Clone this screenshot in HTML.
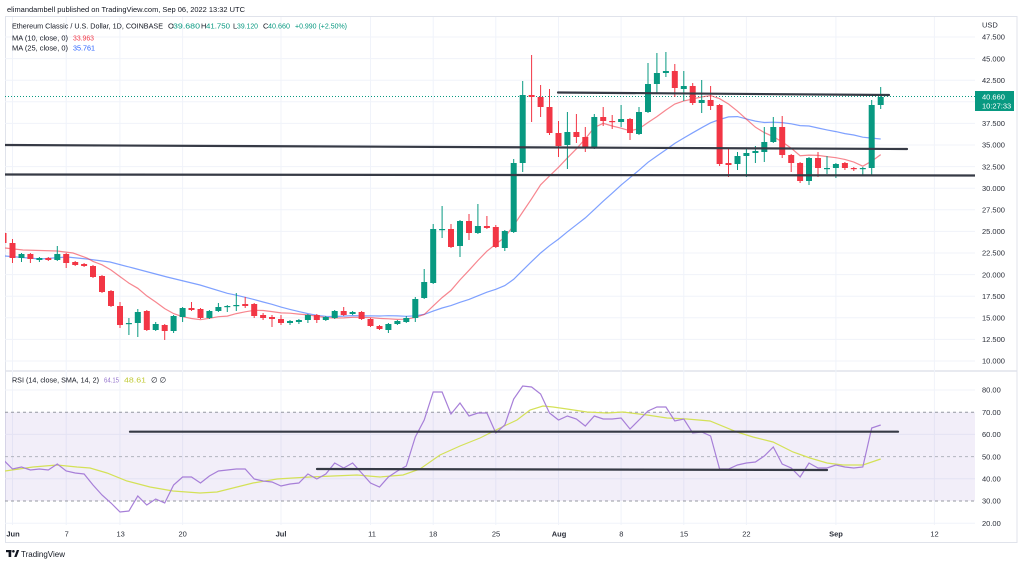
<!DOCTYPE html>
<html><head><meta charset="utf-8"><style>
html,body{margin:0;padding:0;background:#fff;width:1024px;height:565px;overflow:hidden}
svg{display:block}
text{font-family:"Liberation Sans",Arial,sans-serif}
</style></head><body>
<svg width="1024" height="565" viewBox="0 0 1024 565" xmlns="http://www.w3.org/2000/svg">
<defs>
<clipPath id="cm"><rect x="5" y="17" width="970" height="354"/></clipPath>
<clipPath id="cr"><rect x="5" y="372" width="970" height="152"/></clipPath>
</defs>
<rect width="1024" height="565" fill="#fff"/>
<!-- frame -->
<rect x="5.5" y="16.5" width="1011.5" height="526" fill="none" stroke="#e0e3eb"/>
<line x1="5" y1="371" x2="1017" y2="371" stroke="#e0e3eb" stroke-width="1.5"/>
<!-- grid -->
<g stroke="#f0f3fa" stroke-width="1">
<path d="M5 37H975M5 58.6H975M5 80.2H975M5 101.8H975M5 123.4H975M5 145H975M5 166.6H975M5 188.2H975M5 209.8H975M5 231.4H975M5 253H975M5 274.6H975M5 296.2H975M5 317.8H975M5 339.4H975M5 361H975"/>
<path d="M5 390H975M5 434.4H975M5 478.8H975M5 523.2H975"/>
<path d="M12.5 17V525M66.2 17V525M119.9 17V525M182.6 17V525M281 17V525M370.5 17V525M433.2 17V525M495.8 17V525M558.5 17V525M621.1 17V525M683.8 17V525M746.4 17V525M835.9 17V525M934.4 17V525"/>
</g>
<!-- header -->
<text x="7" y="12" font-size="7.5" fill="#131722" textLength="238" lengthAdjust="spacingAndGlyphs">elimandambell published on TradingView.com, Sep 06, 2022 13:32 UTC</text>
<g font-size="7.5">
<text x="12" y="28.7" fill="#131722" textLength="151" lengthAdjust="spacingAndGlyphs">Ethereum Classic / U.S. Dollar, 1D, COINBASE</text>
<text x="168" y="28.7" fill="#131722">O</text><text x="173" y="28.7" fill="#089981" textLength="27" lengthAdjust="spacingAndGlyphs">39.680</text>
<text x="201" y="28.7" fill="#131722">H</text><text x="206" y="28.7" fill="#089981" textLength="24" lengthAdjust="spacingAndGlyphs">41.750</text>
<text x="233" y="28.7" fill="#131722">L</text><text x="237" y="28.7" fill="#089981" textLength="21" lengthAdjust="spacingAndGlyphs">39.120</text>
<text x="263" y="28.7" fill="#131722">C</text><text x="268" y="28.7" fill="#089981" textLength="22" lengthAdjust="spacingAndGlyphs">40.660</text>
<text x="295" y="28.7" fill="#089981" textLength="52" lengthAdjust="spacingAndGlyphs">+0.990 (+2.50%)</text>
<text x="12" y="40.4" fill="#131722" textLength="56" lengthAdjust="spacingAndGlyphs">MA (10, close, 0)</text>
<text x="73" y="40.4" fill="#f23645" textLength="21" lengthAdjust="spacingAndGlyphs">33.963</text>
<text x="12" y="50.4" fill="#131722" textLength="56" lengthAdjust="spacingAndGlyphs">MA (25, close, 0)</text>
<text x="73" y="50.4" fill="#2962ff" textLength="22" lengthAdjust="spacingAndGlyphs">35.761</text>
</g>
<!-- price axis -->
<g font-size="7.5" fill="#2a2e39">
<text x="982" y="27.7">USD</text>
<text x="982" y="39.7">47.500</text>
<text x="982" y="61.3">45.000</text>
<text x="982" y="82.9">42.500</text>
<text x="982" y="126.1">37.500</text>
<text x="982" y="147.7">35.000</text>
<text x="982" y="169.3">32.500</text>
<text x="982" y="190.9">30.000</text>
<text x="982" y="212.5">27.500</text>
<text x="982" y="234.1">25.000</text>
<text x="982" y="255.7">22.500</text>
<text x="982" y="277.3">20.000</text>
<text x="982" y="298.9">17.500</text>
<text x="982" y="320.5">15.000</text>
<text x="982" y="342.1">12.500</text>
<text x="982" y="363.7">10.000</text>
<text x="982" y="392.7">80.00</text>
<text x="982" y="414.9">70.00</text>
<text x="982" y="437.1">60.00</text>
<text x="982" y="459.3">50.00</text>
<text x="982" y="481.5">40.00</text>
<text x="982" y="503.7">30.00</text>
<text x="982" y="525.9">20.00</text>
</g>
<!-- main pane -->
<g clip-path="url(#cm)">
<line x1="5" y1="96.5" x2="975" y2="96.5" stroke="#089981" stroke-width="1" stroke-dasharray="1,2"/>
<!-- MA25 -->
<polyline fill="none" stroke="#2962ff" stroke-opacity="0.6" stroke-width="1.2" points="5,256 40,259 67,257 87,259 110,262 133,268 167,277 200,285 227.3,293.3 236.3,295.2 245.2,297.3 254.2,299.6 263.1,302 272,304.3 281,307.1 290,309.4 298.9,311.6 307.9,313.6 316.8,315.3 325.8,316.3 334.7,316.5 343.7,316.1 352.6,315.6 361.6,315.9 370.5,315.8 379.5,316 388.4,315.7 397.4,315.9 406.3,316.3 415.3,315.8 424.2,314.4 433.2,311.1 442.1,308 451,305.6 460,302.3 469,299.4 477.9,295.8 486.9,292.2 495.8,289.3 504.8,285.6 513.7,279.3 522.7,270.3 531.6,261.6 540.6,253 549.5,245.7 558.5,239.1 567.4,231.8 576.4,224.8 585.3,217.9 594.3,209.6 603.2,201.2 612.2,193.2 621.1,185.1 630,177.7 639,170.2 648,162.3 656.9,156 665.9,149.7 674.8,143.4 683.8,138 692.7,132.8 701.7,127.7 710.6,122.8 719.6,119.5 728.5,116.9 737.5,116.6 746.4,118.9 755.4,121.1 764.3,122.5 773.3,122.2 782.2,122.6 791.2,123.8 800.1,125.6 809,126 818,128 827,129.9 835.9,131.6 844.9,133.6 853.8,135 862.8,137.2 871.7,138.1 880.7,139"/>
<!-- MA10 -->
<polyline fill="none" stroke="#f23645" stroke-opacity="0.6" stroke-width="1.2" points="5,248 23,250 57,251 73,253 87,258 93,261.4 102,264.8 111,270 120,276.6 128.9,283.1 137.8,288.3 146.8,295.9 155.7,302 164.7,308.6 173.6,313.6 182.6,316.7 191.5,318.5 200.5,319.7 209.4,318.3 218.4,316.7 227.3,316.1 236.3,313.6 245.2,311.8 254.2,310.3 263.1,310.5 272,311.6 281,312.9 290,313.2 298.9,314.1 307.9,314.9 316.8,316.3 325.8,317.5 334.7,318 343.7,317.9 352.6,317.3 361.6,317.3 370.5,317.6 379.5,318.4 388.4,318.8 397.4,319.4 406.3,319.2 415.3,317.4 424.2,314.5 433.2,305.9 442.1,297.6 451,290.4 460,279.9 469,270.3 477.9,260.5 486.9,251.2 495.8,244.1 504.8,237.3 513.7,225.4 522.7,212 531.6,198.8 540.6,184.8 549.5,176 558.5,167.3 567.4,157.9 576.4,148.8 585.3,138.9 594.3,127.5 603.2,123.3 612.2,126 621.1,128.2 630,130.8 639,128.7 648,122.5 656.9,116.6 665.9,110 674.8,104 683.8,100.9 692.7,99.1 701.7,96.9 710.6,95.6 719.6,98.7 728.5,104 737.5,111.2 746.4,119.2 755.4,127.2 764.3,132.6 773.3,136.7 782.2,141.9 791.2,148.2 800.1,155.7 809,155.1 818,155.4 827,156.6 835.9,157.7 844.9,159.4 853.8,162.1 862.8,166.2 871.7,161.2 880.7,154.6"/>
<!-- green candles -->
<path fill="none" stroke="#089981" stroke-width="1" d="M21.5 253V262M39.4 257V262M57.3 246V261M128.9 318V335M137.8 309V337M155.7 322V331M173.6 315V333M182.6 307V322M209.4 310V319M218.4 303V312M227.3 305V312M236.3 293V311M290 320V325M298.9 319V324M307.9 314V323M325.8 316V321M334.7 310V319M352.6 311V315M388.4 323V333M397.4 320V325M406.3 316V323M415.3 297V322M424.2 269V299M433.2 224V284M442.1 206V238M460 220V257M477.9 204V234M504.8 230V251M513.7 159V233M522.7 81V172M567.4 112V169M594.3 114V149M621.1 105V127M639 107V135M648 63V113M656.9 53V93M665.9 52V77M683.8 71V101M701.7 80V113M737.5 152V170M746.4 149V177M755.4 146V163M764.3 127V162M773.3 117V143M809 157V185M827 156V174M835.9 163V178M862.8 167V175M871.7 100V175M880.7 87V109"/>
<g fill="#089981">
<rect x="18.5" y="254" width="6" height="4"/>
<rect x="36.4" y="258" width="6" height="2"/>
<rect x="54.3" y="254" width="6" height="6"/>
<rect x="125.9" y="323" width="6" height="1.2"/>
<rect x="134.8" y="312" width="6" height="11"/>
<rect x="152.7" y="324" width="6" height="6"/>
<rect x="170.6" y="316" width="6" height="15"/>
<rect x="179.6" y="308" width="6" height="9"/>
<rect x="206.4" y="311" width="6" height="7"/>
<rect x="215.4" y="307" width="6" height="4"/>
<rect x="224.3" y="306" width="6" height="1.2"/>
<rect x="233.3" y="305" width="6" height="1.2"/>
<rect x="287" y="321" width="6" height="2"/>
<rect x="295.9" y="320" width="6" height="2"/>
<rect x="304.9" y="315" width="6" height="5"/>
<rect x="322.8" y="317" width="6" height="3"/>
<rect x="331.7" y="311" width="6" height="7"/>
<rect x="349.6" y="312" width="6" height="2"/>
<rect x="385.4" y="324" width="6" height="6"/>
<rect x="394.4" y="321" width="6" height="3"/>
<rect x="403.3" y="318" width="6" height="4"/>
<rect x="412.3" y="299" width="6" height="19"/>
<rect x="421.2" y="282" width="6" height="16"/>
<rect x="430.2" y="229" width="6" height="54"/>
<rect x="439.1" y="229" width="6" height="1.2"/>
<rect x="457" y="221" width="6" height="25"/>
<rect x="474.9" y="226" width="6" height="7"/>
<rect x="501.8" y="231" width="6" height="17"/>
<rect x="510.7" y="163" width="6" height="69"/>
<rect x="519.7" y="95" width="6" height="68"/>
<rect x="564.4" y="132" width="6" height="13"/>
<rect x="591.3" y="117" width="6" height="31"/>
<rect x="618.1" y="119" width="6" height="3"/>
<rect x="636" y="112" width="6" height="22"/>
<rect x="645" y="84" width="6" height="28"/>
<rect x="653.9" y="73" width="6" height="11"/>
<rect x="662.9" y="71" width="6" height="2"/>
<rect x="680.8" y="86" width="6" height="3"/>
<rect x="698.7" y="100" width="6" height="3"/>
<rect x="734.5" y="156" width="6" height="8"/>
<rect x="743.4" y="153" width="6" height="3"/>
<rect x="752.4" y="151" width="6" height="2"/>
<rect x="761.3" y="142" width="6" height="10"/>
<rect x="770.3" y="127" width="6" height="15"/>
<rect x="806" y="158" width="6" height="23"/>
<rect x="824" y="168" width="6" height="1.2"/>
<rect x="832.9" y="164" width="6" height="4"/>
<rect x="859.8" y="168" width="6" height="1.2"/>
<rect x="868.7" y="105" width="6" height="63"/>
<rect x="877.7" y="97" width="6" height="8"/>
</g>
<!-- red candles -->
<path fill="none" stroke="#f23645" stroke-width="1" d="M3.5 231V245M12.5 239V263M30.4 253V263M48.3 257V261M66.2 253V268M75.2 261V266M84.1 263V267M93 265V278M102 275V293M111 290V307M120 302V328M146.8 310V331M164.7 324V340M191.5 302V311M200.5 308V319M245.2 297V308M254.2 303V318M263.1 313V320M272 315V327M281 315V325M316.8 314V323M343.7 307V316M361.6 311V320M370.5 318V327M379.5 325V330M451 224V248M469 214V240M486.9 216V229M495.8 225V248M531.6 55V122M540.6 85V117M549.5 89V135M558.5 121V157M576.4 114V143M585.3 127V152M603.2 107V126M612.2 115V129M630 118V140M674.8 64V97M692.7 83V105M710.6 86V110M719.6 104V166M728.5 149V177M782.2 116V158M791.2 154V172M800.1 162V183M818 152V177M844.9 162V170M853.8 167V171"/>
<g fill="#f23645">
<rect x="0.5" y="233" width="6" height="10"/>
<rect x="9.5" y="243" width="6" height="15"/>
<rect x="27.4" y="254" width="6" height="5"/>
<rect x="45.3" y="258" width="6" height="2"/>
<rect x="63.2" y="254" width="6" height="9"/>
<rect x="72.2" y="262" width="6" height="3"/>
<rect x="81.1" y="264" width="6" height="2"/>
<rect x="90" y="266" width="6" height="11"/>
<rect x="99" y="276" width="6" height="16"/>
<rect x="108" y="291" width="6" height="15"/>
<rect x="117" y="306" width="6" height="19"/>
<rect x="143.8" y="311" width="6" height="19"/>
<rect x="161.7" y="325" width="6" height="6"/>
<rect x="188.5" y="308" width="6" height="2"/>
<rect x="197.5" y="309" width="6" height="9"/>
<rect x="242.2" y="304" width="6" height="2"/>
<rect x="251.2" y="304" width="6" height="12"/>
<rect x="260.1" y="315" width="6" height="3"/>
<rect x="269" y="317" width="6" height="2"/>
<rect x="278" y="319" width="6" height="4"/>
<rect x="313.8" y="315" width="6" height="5"/>
<rect x="340.7" y="311" width="6" height="4"/>
<rect x="358.6" y="312" width="6" height="7"/>
<rect x="367.5" y="319" width="6" height="7"/>
<rect x="376.5" y="326" width="6" height="3"/>
<rect x="448" y="229" width="6" height="18"/>
<rect x="466" y="221" width="6" height="12"/>
<rect x="483.9" y="226" width="6" height="2"/>
<rect x="492.8" y="227" width="6" height="20"/>
<rect x="528.6" y="95" width="6" height="2"/>
<rect x="537.6" y="97" width="6" height="10"/>
<rect x="546.5" y="107" width="6" height="26"/>
<rect x="555.5" y="133" width="6" height="13"/>
<rect x="573.4" y="132" width="6" height="5"/>
<rect x="582.3" y="137" width="6" height="11"/>
<rect x="600.2" y="117" width="6" height="4"/>
<rect x="609.2" y="121" width="6" height="1.2"/>
<rect x="627" y="119" width="6" height="14"/>
<rect x="671.8" y="71" width="6" height="17"/>
<rect x="689.7" y="86" width="6" height="17"/>
<rect x="707.6" y="100" width="6" height="6"/>
<rect x="716.6" y="105" width="6" height="59"/>
<rect x="725.5" y="163" width="6" height="2"/>
<rect x="779.2" y="127" width="6" height="28"/>
<rect x="788.2" y="155" width="6" height="8"/>
<rect x="797.1" y="163" width="6" height="18"/>
<rect x="815" y="158" width="6" height="10"/>
<rect x="841.9" y="163" width="6" height="5"/>
<rect x="850.8" y="168" width="6" height="1.2"/>
</g>
<!-- trend lines -->
<g stroke="#363a45" stroke-width="2.2" stroke-linecap="round">
<line x1="5" y1="145" x2="907" y2="149"/>
<line x1="5" y1="174.5" x2="975" y2="175.5"/>
<line x1="558" y1="92.5" x2="889" y2="95"/>
</g>
</g>
<!-- price label -->
<rect x="975" y="91" width="39" height="20" fill="#089981"/>
<text x="982" y="99.7" font-size="7.5" fill="#fff">40.660</text>
<text x="982" y="108.5" font-size="7.5" fill="#fff">10:27:33</text>
<!-- RSI pane -->
<g clip-path="url(#cr)">
<rect x="5" y="412.2" width="970" height="88.8" fill="#7e57c2" fill-opacity="0.1"/>
<line x1="5" y1="412.2" x2="975" y2="412.2" stroke="#9598a1" stroke-dasharray="3,3"/>
<line x1="5" y1="456.6" x2="975" y2="456.6" stroke="#b2b5be" stroke-dasharray="3,3"/>
<line x1="5" y1="501" x2="975" y2="501" stroke="#9598a1" stroke-dasharray="3,3"/>
<polyline fill="none" stroke="#d4e157" stroke-width="1.2" points="5,471 33,467 57,465 77,467 90,468 107,473 127,481 150,487 173,491 200,493 217,492 233,488 253,483 277,479 293,478 310,477 333,476 357,475 380,477 403,475 420,469 440,455 460,446 480,438 500,428 517,420 530,410 543,406 553,407 567,409 587,412 607,413 623,412 647,415 667,418 687,419 710,421 737,432 753,437 773,442 793,452 810,458 827,463 843,465 863,465 880.7,459"/>
<polyline fill="none" stroke="#a77fd8" stroke-width="1.2" points="3.5,460 12.5,469 21.5,467 30.4,470 39.4,469 48.3,470 57.3,464 66.2,471 75.2,473 84.1,474 93,485 102,495 111,503 120,512 128.9,511 137.8,496 146.8,505 155.7,499 164.7,503 173.6,485 182.6,477 191.5,477 200.5,483 209.4,476 218.4,471 227.3,470 236.3,469 245.2,469 254.2,479 263.1,481 272,482 281,486 290,484 298.9,483 307.9,474 316.8,479 325.8,474 334.7,463 343.7,468 352.6,463 361.6,473 370.5,483 379.5,487 388.4,477 397.4,471 406.3,466 415.3,437 424.2,420 433.2,392 442.1,392 451,414 460,403 469,416 477.9,413 486.9,413 495.8,433 504.8,425 513.7,399 522.7,386 531.6,387 540.6,394 549.5,413 558.5,420 567.4,416 576.4,419 585.3,426 594.3,416 603.2,419 612.2,419 621.1,418 630,429 639,420 648,411 656.9,407 665.9,407 674.8,421 683.8,419 692.7,433 701.7,432 710.6,436 719.6,469 728.5,469 737.5,465 746.4,463 755.4,462 764.3,456 773.3,447 782.2,464 791.2,468 800.1,477 809,463 818,468 827,468 835.9,465 844.9,467 853.8,468 862.8,467 871.7,428 880.7,425"/>
<g stroke="#363a45" stroke-width="2.2" stroke-linecap="round">
<line x1="130" y1="431.7" x2="898" y2="431.7"/>
<line x1="317" y1="469" x2="827" y2="470"/>
</g>
</g>
<!-- RSI legend -->
<g font-size="7.5">
<text x="12" y="382.7" fill="#131722" textLength="87" lengthAdjust="spacingAndGlyphs">RSI (14, close, SMA, 14, 2)</text>
<text x="104" y="382.7" fill="#9575cd" textLength="15" lengthAdjust="spacingAndGlyphs">64.15</text>
<text x="124" y="382.7" fill="#c0ca33" textLength="22" lengthAdjust="spacingAndGlyphs">48.61</text>
<text x="151" y="382.7" fill="#131722">∅ ∅</text>
</g>
<!-- time axis -->
<g font-size="7.5" fill="#2a2e39" text-anchor="middle">
<text x="13" y="536.7" font-weight="bold">Jun</text>
<text x="66.7" y="536.7">7</text>
<text x="120.7" y="536.7">13</text>
<text x="182.7" y="536.7">20</text>
<text x="281" y="536.7" font-weight="bold">Jul</text>
<text x="372" y="536.7">11</text>
<text x="433.2" y="536.7">18</text>
<text x="496" y="536.7">25</text>
<text x="559" y="536.7" font-weight="bold">Aug</text>
<text x="621.3" y="536.7">8</text>
<text x="684" y="536.7">15</text>
<text x="746.4" y="536.7">22</text>
<text x="836" y="536.7" font-weight="bold">Sep</text>
<text x="934.5" y="536.7">12</text>
</g>
<!-- TradingView logo -->
<g fill="#131722">
<rect x="6" y="550" width="5.5" height="2.2"/>
<rect x="8.6" y="550" width="2.6" height="7"/>
<circle cx="13.4" cy="551.3" r="1.3"/>
<polygon points="14.2,557 16.8,550 19.2,550 16.6,557"/>
</g>
<text x="21" y="557" font-size="8.5" fill="#131722" textLength="44" lengthAdjust="spacingAndGlyphs">TradingView</text>
</svg>
</body></html>
